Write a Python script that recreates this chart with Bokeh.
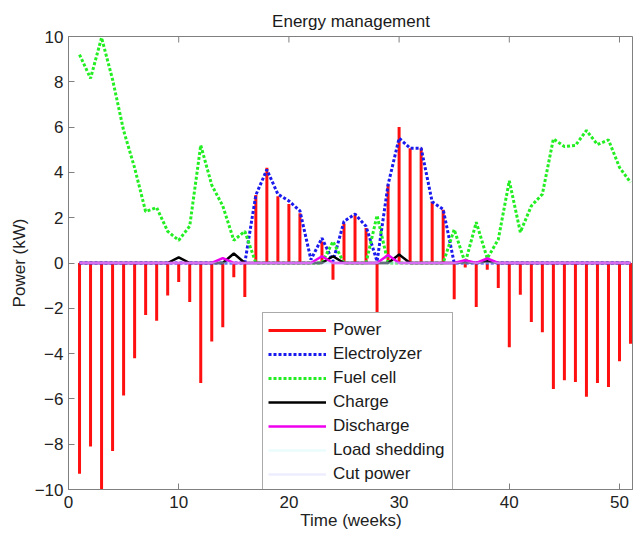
import math
from bokeh.plotting import figure
from bokeh.models import ColumnDataSource, FixedTicker, Legend, LegendItem, Range1d
from bokeh.embed import file_html
from bokeh.resources import INLINE

weeks = list(range(1, 52))
power = [-9.3, -8.1, -10.0, -8.3, -5.85, -4.2, -2.3, -2.55, -1.43, -0.84,
         -1.72, -5.3, -3.47, -2.84, -0.63, -1.5, 3.0, 4.2, 2.95, 2.6,
         2.2, 0.0, 0.95, -0.74, 1.74, 2.13, 1.54, -2.2, 3.46, 6.0,
         5.07, 5.07, 2.7, 2.35, -1.6, -0.2, -1.94, -0.3, -1.1, -3.72,
         -1.4, -2.6, -3.06, -5.56, -5.18, -5.25, -5.9, -5.3, -5.47, -4.34,
         -3.57]
electrolyzer = [0, 0, 0, 0, 0, 0, 0, 0, 0, 0,
                0, 0, 0, 0, 0, 0, 3.0, 4.12, 3.04, 2.74,
                2.3, 0.15, 1.1, 0.07, 1.84, 2.16, 1.62, 0.07, 3.46, 5.51,
                5.07, 5.07, 2.7, 2.37, 0, 0, 0, 0, 0, 0,
                0, 0, 0, 0, 0, 0, 0, 0, 0, 0,
                0]
fuel_cell = [9.2, 8.15, 9.95, 8.1, 5.85, 4.2, 2.27, 2.45, 1.4, 1.0,
             1.63, 5.2, 3.44, 2.52, 1.0, 1.4, 0, 0, 0, 0,
             0, 0, 0, 0.95, 0, 0, 0, 2.1, 0, 0,
             0, 0, 0, 0, 1.48, 0, 1.8, 0.2, 1.04, 3.63,
             1.36, 2.52, 3.04, 5.48, 5.14, 5.19, 5.85, 5.23, 5.44, 4.22,
             3.56]
charge = [0, 0, 0, 0, 0, 0, 0, 0, 0, 0.25,
          0, 0, 0, 0, 0.42, 0, 0, 0, 0, 0,
          0, 0, 0, 0.3, 0, 0, 0, 0, 0, 0.37,
          0, 0, 0, 0, 0, 0.03, 0, 0.08, 0, 0,
          0, 0, 0, 0, 0, 0, 0, 0, 0, 0,
          0]
discharge = [0, 0, 0, 0, 0, 0, 0, 0, 0, 0,
             0, 0, 0, 0.22, 0, 0, 0, 0, 0, 0,
             0, 0, 0.3, 0, 0, 0, 0, 0, 0.35, 0,
             0, 0, 0, 0, 0, 0.12, 0, 0.2, 0, 0,
             0, 0, 0, 0, 0, 0, 0, 0, 0, 0,
             0]
load_shedding = [0] * 51
cut_power = [0] * 51

x_ticks = [0, 10, 20, 30, 40, 50]
y_ticks = [-10, -8, -6, -4, -2, 0, 2, 4, 6, 8, 10]

src = ColumnDataSource(dict(week=weeks, power=power, elec=electrolyzer, fuel=fuel_cell,
                            charge=charge, discharge=discharge, shed=load_shedding, cut=cut_power))
top_src = ColumnDataSource(dict(x=x_ticks, y=[y_ticks[-1]] * len(x_ticks)))

FONT = "Liberation Sans"
p = figure(width=633, height=536, output_backend="svg", toolbar_location=None,
           x_range=Range1d(0, 51.27), y_range=Range1d(y_ticks[0], y_ticks[-1]),
           min_border_left=68, min_border_right=0, min_border_top=36, min_border_bottom=47,
           title="Energy management")
p.title.text_font = FONT
p.title.text_font_size = "17px"
p.title.text_font_style = "normal"
p.title.align = "center"
p.title.text_color = "#1a1a1a"
p.title.standoff = 11

p.grid.visible = False
p.outline_line_color = "#808080"
p.background_fill_color = "white"

for ax, ticks in ((p.xaxis[0], x_ticks), (p.yaxis[0], y_ticks)):
    ax.ticker = FixedTicker(ticks=ticks)
    ax.major_tick_in = 6
    ax.major_tick_out = 0
    ax.minor_tick_line_color = None
    ax.axis_line_color = "#808080"
    ax.major_tick_line_color = "#808080"
    ax.major_label_text_font = FONT
    ax.major_label_text_font_size = "17px"
    ax.major_label_text_color = "#222222"
    ax.axis_label_text_font = FONT
    ax.axis_label_text_font_size = "17px"
    ax.axis_label_text_font_style = "normal"
    ax.axis_label_text_color = "#222222"

p.xaxis.axis_label = "Time (weeks)"
p.yaxis.axis_label = "Power (kW)"
p.xaxis.major_label_standoff = 6
p.xaxis.axis_label_standoff = 0
p.yaxis.major_label_standoff = 5
p.yaxis.axis_label_standoff = 3

# inward tick marks along the top edge of the box (clipped to the frame)
p.scatter("x", "y", source=top_src, marker="dash", angle=math.pi / 2, size=12,
          line_color="#808080", line_width=1)

r_power = p.segment(x0="week", y0=0, x1="week", y1="power", source=src,
                    line_color="#ff1010", line_width=3)
r_elec = p.line("week", "elec", source=src, line_color="#1a1aee", line_width=3, line_dash="3 2")
r_fuel = p.line("week", "fuel", source=src, line_color="#22ee22", line_width=3, line_dash="3 2")
r_charge = p.line("week", "charge", source=src, line_color="black", line_width=2.5)
r_dis = p.line("week", "discharge", source=src, line_color="#ee00ee", line_width=2.5)
r_shed = p.line("week", "shed", source=src, line_color="#b8f4f4", line_width=2.5, line_alpha=0.3)
r_cut = p.line("week", "cut", source=src, line_color="#c4c4ff", line_width=2.5, line_alpha=0.3)

legend = Legend(items=[
    LegendItem(label="Power", renderers=[r_power]),
    LegendItem(label="Electrolyzer", renderers=[r_elec]),
    LegendItem(label="Fuel cell", renderers=[r_fuel]),
    LegendItem(label="Charge", renderers=[r_charge]),
    LegendItem(label="Discharge", renderers=[r_dis]),
    LegendItem(label="Load shedding", renderers=[r_shed]),
    LegendItem(label="Cut power", renderers=[r_cut]),
], location=(194, -3))
legend.label_text_font = FONT
legend.label_text_font_size = "17px"
legend.label_text_color = "#1a1a1a"
legend.label_height = 24
legend.label_width = 114
legend.label_standoff = 7
legend.glyph_width = 58
legend.glyph_height = 20
legend.spacing = 0
legend.padding = 5
legend.margin = 0
legend.border_line_color = "#555555"
legend.border_line_width = 1
legend.background_fill_color = "white"
legend.background_fill_alpha = 1
p.add_layout(legend, "center")

open("out.html", "w").write(file_html(p, INLINE))
